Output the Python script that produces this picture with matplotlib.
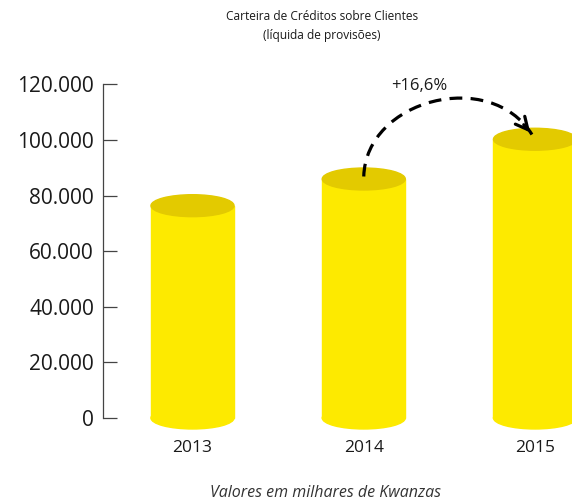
import matplotlib
matplotlib.use("Agg")
import matplotlib.pyplot as plt
from matplotlib.patches import Rectangle, Ellipse, PathPatch
from matplotlib.path import Path

plt.rcParams['font.family'] = ['Open Sans', 'DejaVu Sans']

years = ["2013", "2014", "2015"]
credit = [76400, 86000, 100300]
y_ticks = [0, 20000, 40000, 60000, 80000, 100000, 120000]
y_tick_labels = ["0", "20.000", "40.000", "60.000", "80.000", "100.000", "120.000"]

body_color = "#FDEA00"
top_color = "#E3CA00"
bar_w = 0.485
cap_h = 7900

fig = plt.figure(figsize=(5.72, 5.01), dpi=100)
ax = fig.add_axes([103 / 572, 83 / 501, 469 / 572, 333.5 / 501])
ax.set_xlim(-0.5226, 2.216)
ax.set_ylim(0, 120000)

for i, v in enumerate(credit):
    ax.add_patch(Ellipse((i, 0), bar_w, cap_h, color=body_color, clip_on=False, zorder=2))
    ax.add_patch(Rectangle((i - bar_w / 2, 0), bar_w, v, color=body_color, clip_on=False, zorder=2))
    ax.add_patch(Ellipse((i, v), bar_w, cap_h, color=top_color, clip_on=False, zorder=3))

# axes styling
for s in ["top", "right", "bottom"]:
    ax.spines[s].set_visible(False)
ax.spines["left"].set_color("#444444")
ax.spines["left"].set_linewidth(0.9)
ax.set_yticks(y_ticks)
ax.set_yticklabels(y_tick_labels, fontsize=15, color="#1a1a1a")
ax.tick_params(axis="y", direction="in", length=10, width=0.9, color="#444444", pad=6.5)
ax.set_xticks(range(len(years)))
ax.set_xticklabels(years, fontsize=12.5, color="#1a1a1a")
ax.tick_params(axis="x", length=0, pad=16)

# growth arrow 2014 -> 2015
growth = (credit[2] / credit[1] - 1) * 100
p0 = (1.0, credit[1] + 900)
c1 = (1.013, 114600)
c2 = (1.737, 126100)
p3 = (1.982, credit[2] + 1700)
curve = Path([p0, c1, c2, p3], [Path.MOVETO, Path.CURVE4, Path.CURVE4, Path.CURVE4])
ax.add_patch(PathPatch(curve, fill=False, lw=2.3, color="black",
                       linestyle=(0, (4, 2.6)), clip_on=False, zorder=4))
ax.annotate("", xy=p3, xytext=(1.924, credit[2] + 6000),
            arrowprops=dict(arrowstyle="->", lw=2.3, color="black", mutation_scale=22),
            annotation_clip=False, zorder=4)
ax.text(1.325, 119400, "+" + f"{growth:.1f}".replace(".", ",") + "%", fontsize=12,
        color="#1a1a1a", ha="center", va="center")

fig.text(322 / 572, 1 - 17 / 501, "Carteira de Créditos sobre Clientes",
         fontsize=8.6, ha="center", va="center", color="#1a1a1a")
fig.text(322 / 572, 1 - 35 / 501, "(líquida de provisões)",
         fontsize=8.6, ha="center", va="center", color="#1a1a1a")
fig.text(325 / 572, 1 - 493 / 501, "Valores em milhares de Kwanzas",
         fontsize=11.5, style="italic", ha="center", va="center", color="#333333")

fig.savefig("out.png", dpi=100)
